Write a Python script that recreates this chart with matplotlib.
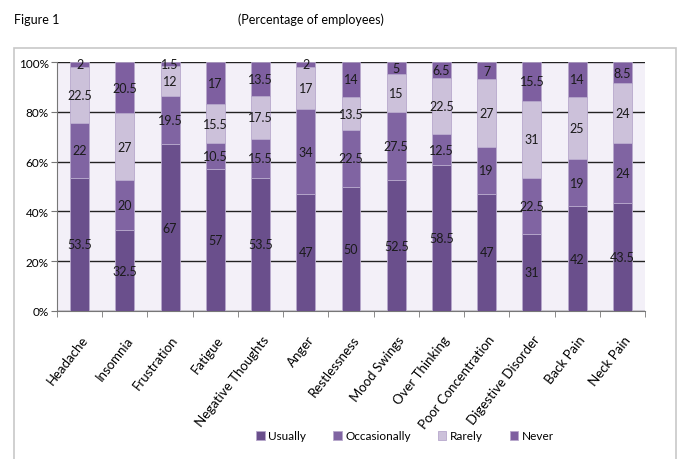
import numpy as np
from matplotlib import pyplot as plt
from matplotlib.patches import Rectangle
from matplotlib.ticker import FixedLocator, NullFormatter

plt.rcParams['font.family'] = ['Lato', 'DejaVu Sans']

symptoms = ['Headache', 'Insomnia', 'Frustration', 'Fatigue', 'Negative Thoughts',
            'Anger', 'Restlessness', 'Mood Swings', 'Over Thinking',
            'Poor Concentration', 'Digestive Disorder', 'Back Pain', 'Neck Pain']
usually = [53.5, 32.5, 67, 57, 53.5, 47, 50, 52.5, 58.5, 47, 31, 42, 43.5]
occasionally = [22, 20, 19.5, 10.5, 15.5, 34, 22.5, 27.5, 12.5, 19, 22.5, 19, 24]
rarely = [22.5, 27, 12, 15.5, 17.5, 17, 13.5, 15, 22.5, 27, 31, 25, 24]
never = [2, 20.5, 1.5, 17, 13.5, 2, 14, 5, 6.5, 7, 15.5, 14, 8.5]

series = [('Usually', usually, '#6a4f8c'),
          ('Occasionally', occasionally, '#8064a2'),
          ('Rarely', rarely, '#ccc1da'),
          ('Never', never, '#7e5fa0')]

fig = plt.figure(figsize=(6.78, 4.6), dpi=100)
fig.patches.append(Rectangle((14 / 678, -0.01), 662 / 678, 1 - 49 / 460 + 0.01,
                             transform=fig.transFigure, fill=False,
                             edgecolor='#c8c8c8', linewidth=1.2))
ax = fig.add_axes([57 / 678, 1 - 312 / 460, 588 / 678, 249 / 460])
ax.set_facecolor('#f3f0f8')

x = np.arange(len(symptoms))
bottom = np.zeros(len(symptoms))
for name, vals, col in series:
    vals = np.array(vals)
    ax.bar(x, vals, 0.42, bottom=bottom, color=col, edgecolor='#b7a8cc',
           linewidth=0.6, label=name, zorder=3)
    for xi, b, v in zip(x, bottom, vals):
        ax.text(xi, b + v / 2, f'{v:g}', ha='center', va='center',
                fontsize=9, color='#1a1a1a', zorder=4)
    bottom += vals

ax.set_xlim(-0.5, len(symptoms) - 0.5)
ax.set_ylim(0, 100)
ax.set_yticks(range(0, 101, 20))
ax.set_yticklabels([f'{v}%' for v in range(0, 101, 20)], fontsize=8.5)
ax.yaxis.grid(True, color='#222222', linewidth=1.0, zorder=1)
ax.set_xticks(x + 0.02)
ax.set_xticklabels(symptoms, rotation=52, ha='right', rotation_mode='anchor',
                   fontsize=9.5)
ax.tick_params(axis='x', length=0, pad=16)
ax.xaxis.set_minor_locator(FixedLocator(np.arange(-0.5, len(symptoms), 1)))
ax.xaxis.set_minor_formatter(NullFormatter())
ax.tick_params(axis='x', which='minor', length=4, color='#777777')
ax.tick_params(axis='y', length=4, color='#777777', pad=2)
for s in ['top', 'right']:
    ax.spines[s].set_visible(False)
ax.spines['left'].set_color('#777777')
ax.spines['bottom'].set_color('#777777')

fig.text(14 / 678, 1 - 20 / 460, 'Figure 1', fontsize=9, va='center')
fig.text(311 / 678, 1 - 20 / 460, '(Percentage of employees)', fontsize=9,
         ha='center', va='center')

fig.legend(loc='center', bbox_to_anchor=(405 / 678, 1 - 437 / 460), ncol=4,
           frameon=False, fontsize=8.5, handlelength=0.7, handleheight=0.9,
           handletextpad=0.3, columnspacing=2.3)

fig.savefig('out.png', dpi=100)
